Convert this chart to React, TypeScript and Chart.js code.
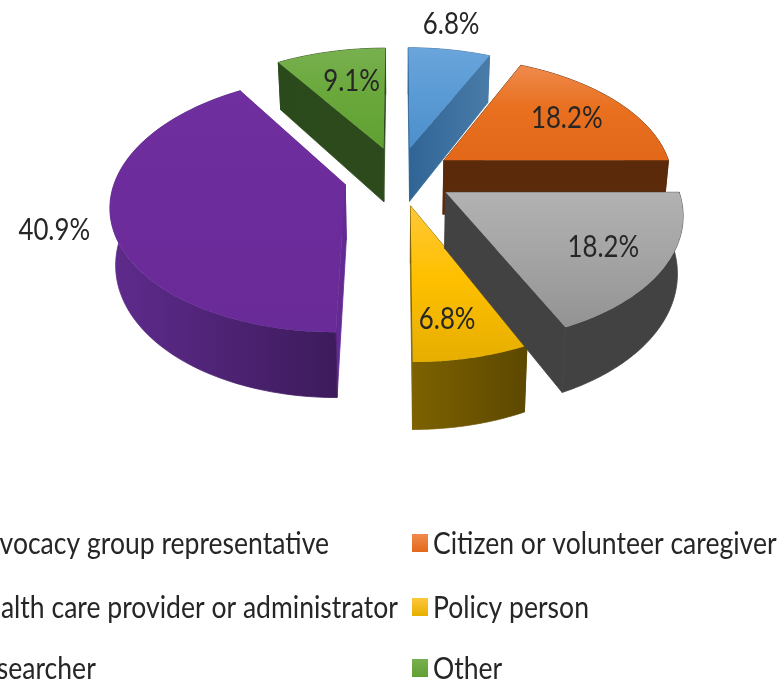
import React, { useEffect, useRef } from "react";
import { Chart, registerables } from "chart.js";

Chart.register(...registerables);

const categories = [
  "Advocacy group representative",
  "Citizen or volunteer caregiver",
  "Health care provider or administrator",
  "Policy person",
  "Researcher",
  "Other",
];
const shares = [6.8, 18.2, 18.2, 6.8, 40.9, 9.1];
const sliceColors = ["#5B9BD5", "#E8701F", "#A5A5A5", "#FFC000", "#6C2C9B", "#6AA83C"];
const topLight = ["#6AA5DB", "#EF8A4C", "#B2B2B2", "#FFC83A", "#702F9F", "#78B04F"];
const topDark = ["#4C8FCC", "#E3681A", "#939393", "#E6AE00", "#692B98", "#60A032"];
const sideLeft = ["#2F6596", "#5A2A0A", "#424242", "#7E6200", "#5F2B8D", "#2B4A1B"];
const sideRight = ["#4A7BA8", "#5A2A0A", "#424242", "#5C4800", "#3B1A59", "#2D4A1C"];
const cutTone = [null, null, null, null, "#642A94", null];
const drawOrder = [5, 0, 1, 4, 3, 2];
const labelReach = [1.3, 0.7, 0.74, 0.77, 1.23, 0.66];
const labelTurn = [-2, 0, 0, 2.5, 0, 2];

// view settings of the 3-D projection
const VIEW = { cx: 398.5, cy: 176, a: 229, b: 123, k: 0.149, explode: 0.24, depth: 55, shrink: 0.98 };
const STEPS = 72;
const TEXT_INK = "#262626";

type P = { x: number; y: number };

const project = (X: number, Y: number, low: boolean): P => {
  const s = 1 / (1 - VIEW.k * Y);
  const x = VIEW.a * X * s;
  const y = VIEW.b * Y * s;
  return low
    ? { x: VIEW.cx + x * VIEW.shrink, y: VIEW.cy + y + VIEW.depth * s }
    : { x: VIEW.cx + x, y: VIEW.cy + y };
};

const trace = (ctx: CanvasRenderingContext2D, pts: P[]) => {
  ctx.beginPath();
  pts.forEach((p, i) => (i ? ctx.lineTo(p.x, p.y) : ctx.moveTo(p.x, p.y)));
  ctx.closePath();
};

const pie3d = {
  id: "pie3d",
  beforeDatasetDraw(chart: any) {
    const ctx: CanvasRenderingContext2D = chart.ctx;
    const arcs = chart.getDatasetMeta(0).data;
    ctx.save();
    ctx.lineWidth = 0.8;
    ctx.lineJoin = "round";
    for (const i of drawOrder) {
      const a0 = arcs[i].startAngle + Math.PI / 2;
      const a1 = arcs[i].endAngle + Math.PI / 2;
      const mid = (a0 + a1) / 2;
      const ox = Math.sin(mid) * VIEW.explode;
      const oy = -Math.cos(mid) * VIEW.explode;
      const rim = (low: boolean) => {
        const out: P[] = [];
        for (let j = 0; j <= STEPS; j++) {
          const t = a0 + ((a1 - a0) * j) / STEPS;
          out.push(project(ox + Math.sin(t), oy - Math.cos(t), low));
        }
        return out;
      };
      const topRim = rim(false);
      const lowRim = rim(true);
      const apexTop = project(ox, oy, false);
      const apexLow = project(ox, oy, true);

      const xs = [apexTop, ...topRim, ...lowRim, apexLow].map((p) => p.x);
      const side = ctx.createLinearGradient(Math.min(...xs), 0, Math.max(...xs), 0);
      side.addColorStop(0, sideLeft[i]);
      side.addColorStop(1, sideRight[i]);

      const cuts: P[][] = [
        [apexTop, topRim[0], lowRim[0], apexLow],
        [apexTop, topRim[STEPS], lowRim[STEPS], apexLow],
      ];
      for (const w of cuts) {
        trace(ctx, w);
        ctx.fillStyle = cutTone[i] ?? side;
        ctx.strokeStyle = cutTone[i] ?? side;
        ctx.fill();
        ctx.stroke();
      }
      trace(ctx, [...topRim, ...[...lowRim].reverse()]);
      ctx.fillStyle = side;
      ctx.strokeStyle = side;
      ctx.fill();
      ctx.stroke();

      const face = [apexTop, ...topRim];
      const ys = face.map((p) => p.y);
      const g = ctx.createLinearGradient(0, Math.min(...ys), 0, Math.max(...ys));
      g.addColorStop(0, topLight[i]);
      g.addColorStop(0.45, sliceColors[i]);
      g.addColorStop(1, topDark[i]);
      trace(ctx, face);
      ctx.fillStyle = g;
      ctx.fill();
    }
    ctx.restore();
    return false;
  },
  afterDraw(chart: any) {
    const ctx: CanvasRenderingContext2D = chart.ctx;
    const arcs = chart.getDatasetMeta(0).data;
    const values = chart.data.datasets[0].data;
    ctx.save();
    ctx.textBaseline = "alphabetic";
    ctx.fillStyle = TEXT_INK;
    const write = (t: string, x: number, y: number, align: "left" | "center", sq: number) => {
      ctx.save();
      ctx.translate(x, y);
      ctx.scale(sq, 1);
      ctx.textAlign = align;
      ctx.fillText(t, 0, 0);
      ctx.restore();
    };
    ctx.font = "30px Lato";
    arcs.forEach((arc: any, i: number) => {
      const centre = (arc.startAngle + arc.endAngle) / 2 + Math.PI / 2;
      const mid = centre + (labelTurn[i] * Math.PI) / 180;
      const p = project(
        Math.sin(centre) * VIEW.explode + Math.sin(mid) * labelReach[i],
        -Math.cos(centre) * VIEW.explode - Math.cos(mid) * labelReach[i],
        false
      );
      write(`${values[i].toFixed(1)}%`, p.x, p.y + 10, "center", 0.86);
    });
    chart.data.labels.forEach((label: string, i: number) => {
      const row = Math.floor(i / 2);
      const col = i % 2;
      const base = [554, 618, 679][row];
      const mark = col ? 412 : -55;
      const g = ctx.createLinearGradient(0, base - 20, 0, base - 2);
      g.addColorStop(0, topLight[i]);
      g.addColorStop(1, topDark[i]);
      ctx.fillStyle = g;
      ctx.fillRect(mark, base - 20, 16, 18);
      ctx.fillStyle = TEXT_INK;
      write(label, col ? 433 : -33, base, "left", 0.885);
    });
    ctx.restore();
  },
};

export default function App() {
  const ref = useRef<HTMLCanvasElement>(null);
  useEffect(() => {
    const chart = new Chart(ref.current as HTMLCanvasElement, {
      type: "pie",
      data: {
        labels: categories,
        datasets: [{ data: shares, backgroundColor: sliceColors, borderWidth: 0 }],
      },
      options: {
        animation: false,
        responsive: false,
        plugins: { legend: { display: false }, tooltip: { enabled: false } },
      },
      plugins: [pie3d],
    } as any);
    return () => chart.destroy();
  }, []);
  return (
    <canvas
      ref={ref}
      width={778}
      height={682}
      style={{ position: "absolute", left: 0, top: 0, display: "block", background: "#fff", filter: "blur(0.5px)" }}
    />
  );
}
